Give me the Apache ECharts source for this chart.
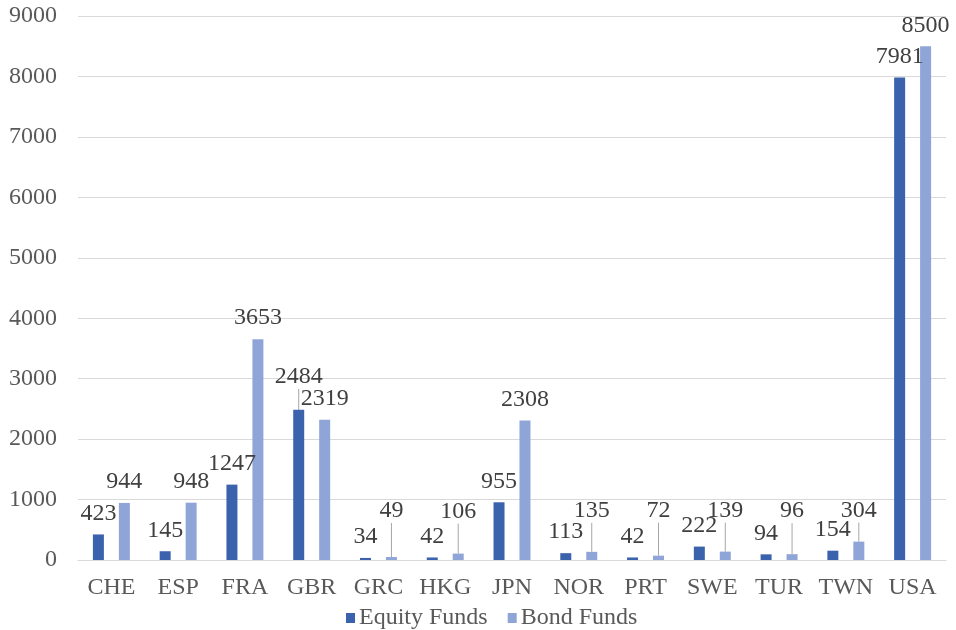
<!DOCTYPE html>
<html>
<head>
<meta charset="utf-8">
<script src="https://cdn.jsdelivr.net/npm/echarts@6/dist/echarts.min.js"></script>
<style>
  html, body { margin: 0; padding: 0; background: #fff; }
  #chart { width: 956px; height: 630px; }
</style>
</head>
<body>
<div id="chart"></div>
<script>
// categories (countries)
const countries = ['CHE', 'ESP', 'FRA', 'GBR', 'GRC', 'HKG', 'JPN', 'NOR', 'PRT', 'SWE', 'TUR', 'TWN', 'USA']
// values per series
const equityFunds = [423, 145, 1247, 2484, 34, 42, 955, 113, 42, 222, 94, 154, 7981]
const bondFunds = [944, 948, 3653, 2319, 49, 106, 2308, 135, 72, 139, 96, 304, 8500]
// y axis ticks
const yTicks = [0, 1000, 2000, 3000, 4000, 5000, 6000, 7000, 8000, 9000]

// labels Excel pushed up (with leader line), in px
const equityLift = [0, 0, 0, -12, 0, 0, 0, 0, 0, 0, 0, 0, 0]
const bondLift = [0, 0, 0, 0, -25, -21, 0, -20, -24, -20, -22, -10, 0]

const FONT = "'Liberation Serif', 'DejaVu Serif', serif"
const FS = 24
const lineStyle = { color: '#a6a6a6', width: 1 }

const toItems = (vals, lift) => vals.map((v, i) => (
    lift[i] ? { value: v, labelLine: { show: true, lineStyle } } : { value: v }
))

const chart = echarts.init(document.getElementById('chart'), null, { renderer: 'canvas' })

const mkSeries = (name, vals, lift, color) => ({
    name,
    type: 'bar',
    barWidth: 11,
    barGap: '136%',
    itemStyle: { color },
    label: {
        show: true,
        position: 'top',
        distance: 9,
        color: '#404040',
        fontFamily: FONT,
        fontSize: FS
    },
    labelLine: { show: false, lineStyle },
    labelLayout: (p) => (lift[p.dataIndex] ? { dy: lift[p.dataIndex] } : {}),
    data: toItems(vals, lift)
})

chart.setOption({
    animation: false,
    textStyle: { fontFamily: FONT },
    grid: { left: 78, right: 10, top: 16, bottom: 70, containLabel: false },
    legend: {
        left: 341,
        top: 601,
        itemWidth: 9,
        itemHeight: 10,
        itemGap: 20,
        icon: 'rect',
        textStyle: { fontFamily: FONT, fontSize: FS, color: '#595959', padding: [0, 0, 0, -1] },
        data: ['Equity Funds', 'Bond Funds']
    },
    xAxis: {
        type: 'category',
        data: countries,
        axisTick: { show: false },
        axisLine: { lineStyle: { color: '#d9d9d9' } },
        axisLabel: { fontFamily: FONT, fontSize: FS, color: '#595959', margin: 16, interval: 0 }
    },
    yAxis: {
        type: 'value',
        min: yTicks[0],
        max: yTicks[yTicks.length - 1],
        interval: yTicks[1] - yTicks[0],
        axisLine: { show: false },
        axisTick: { show: false },
        splitLine: { lineStyle: { color: '#d9d9d9' } },
        axisLabel: { fontFamily: FONT, fontSize: FS, color: '#595959', margin: 21, formatter: (v) => String(v) }
    },
    series: [
        mkSeries('Equity Funds', equityFunds, equityLift, '#3b63ad'),
        mkSeries('Bond Funds', bondFunds, bondLift, '#8fa5d7')
    ]
})
</script>
</body>
</html>
